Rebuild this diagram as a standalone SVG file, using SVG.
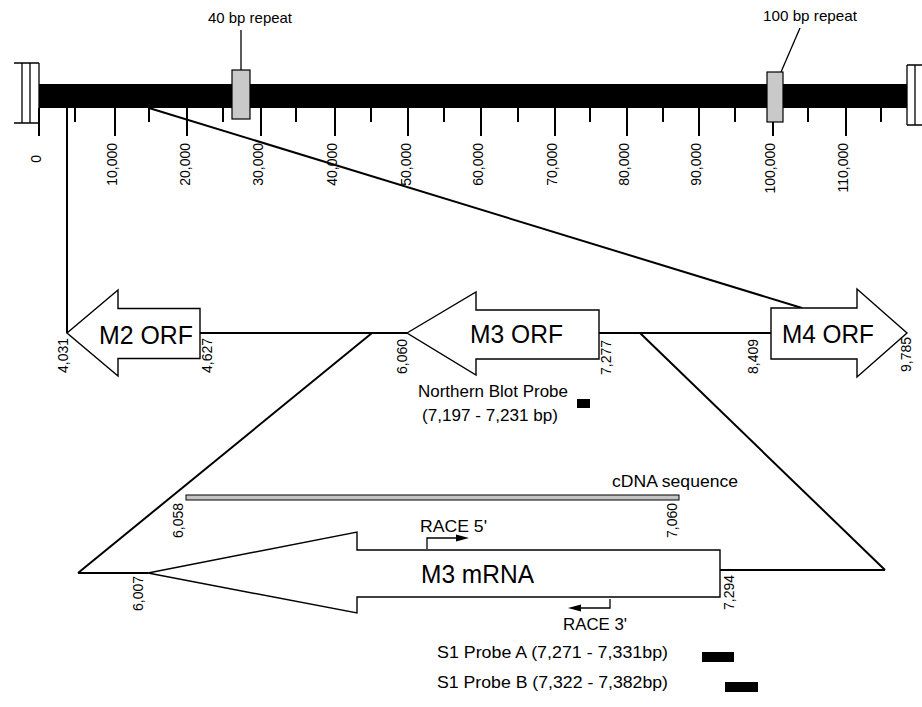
<svg xmlns="http://www.w3.org/2000/svg" width="922" height="707" viewBox="0 0 922 707">
<defs>
<style>
text{font-family:"Liberation Sans",Arial,Helvetica,sans-serif;fill:#000}
.ax{font-size:14px;text-anchor:end}
.lbl{font-size:17px}
.big{font-size:25px}
.rep{font-size:15px}
.ln{stroke:#000;stroke-width:2;fill:none}
.thin{stroke:#000;stroke-width:1.3;fill:none}
.shape{fill:#fff;stroke:#000;stroke-width:1.4}
.tick{stroke:#000;stroke-width:2}
.rpt{fill:#c9c9c9;stroke:#000;stroke-width:1.2}
</style>
</defs>
<rect width="922" height="707" fill="#fff"/>

<g id="chromosome">
  <rect x="39" y="84" width="868" height="24" fill="#000"/>
  <g id="left-end" class="thin">
    <path d="M14,63 H39 M14,123 H39 M22,63 V123 M30,63 V123 M39,63 V123"/>
  </g>
  <g id="right-end" class="thin">
    <path d="M907,65 V125 M915,65 V125 M907,65 H922 M907,125 H922"/>
  </g>
  <g id="ticks" class="tick">
    <path d="M39,108V136 M115,108V136 M187,108V136 M261,108V136 M335,108V136 M408,108V136 M481,108V136 M555,108V136 M627,108V136 M699,108V136 M773,108V136 M846,108V136"/>
    <path d="M75,108V122 M149,108V122 M223,108V122 M296,108V122 M371,108V122 M444,108V122 M518,108V122 M590,108V122 M663,108V122 M735,108V122 M808,108V122 M881,108V122"/>
  </g>
  <g id="axis-labels" class="ax">
    <text transform="translate(41,155) rotate(-90)">0</text>
    <text transform="translate(117,143) rotate(-90)">10,000</text>
    <text transform="translate(190,143) rotate(-90)">20,000</text>
    <text transform="translate(263,143) rotate(-90)">30,000</text>
    <text transform="translate(337,143) rotate(-90)">40,000</text>
    <text transform="translate(411,143) rotate(-90)">50,000</text>
    <text transform="translate(483,143) rotate(-90)">60,000</text>
    <text transform="translate(557,143) rotate(-90)">70,000</text>
    <text transform="translate(629,143) rotate(-90)">80,000</text>
    <text transform="translate(701,143) rotate(-90)">90,000</text>
    <text transform="translate(775,143) rotate(-90)">100,000</text>
    <text transform="translate(848,143) rotate(-90)">110,000</text>
  </g>
</g>

<g id="repeat-40">
  <line x1="241" y1="30" x2="241" y2="70" class="thin"/>
  <rect x="232" y="70" width="18" height="49" class="rpt"/>
  <text class="rep" x="208" y="23" textLength="84" lengthAdjust="spacingAndGlyphs">40 bp repeat</text>
</g>
<g id="repeat-100">
  <line x1="781" y1="72" x2="800" y2="28" class="thin"/>
  <rect x="767" y="72" width="16" height="50" class="rpt"/>
  <text class="rep" x="763" y="21" textLength="94" lengthAdjust="spacingAndGlyphs">100 bp repeat</text>
</g>

<g id="connectors">
  <line x1="67" y1="108" x2="67" y2="333" class="ln"/>
  <line x1="149" y1="108" x2="802" y2="308" class="ln"/>
  <line x1="200" y1="333" x2="407" y2="333" class="ln"/>
  <line x1="599" y1="333" x2="771" y2="333" class="ln"/>
  <line x1="372" y1="333" x2="78" y2="573" class="ln"/>
  <line x1="640" y1="333" x2="885" y2="570" class="ln"/>
  <line x1="78" y1="573" x2="148" y2="573" class="ln"/>
  <line x1="720" y1="570" x2="885" y2="570" class="ln"/>
</g>

<g id="M2-ORF">
  <polygon class="shape" points="67,333 118,290 118,308.5 200,308.5 200,358.5 118,358.5 118,376"/>
  <text class="big" x="99" y="344" textLength="94" lengthAdjust="spacingAndGlyphs">M2 ORF</text>
  <text class="ax" transform="translate(68,338) rotate(-90)">4,031</text>
  <text class="ax" transform="translate(212,338) rotate(-90)">4,627</text>
</g>
<g id="M3-ORF">
  <polygon class="shape" points="407,333 476,292 476,310 599,310 599,359 476,359 476,375"/>
  <text class="big" x="470" y="343" textLength="93" lengthAdjust="spacingAndGlyphs">M3 ORF</text>
  <text class="ax" transform="translate(407,339) rotate(-90)">6,060</text>
  <text class="ax" transform="translate(611,340) rotate(-90)">7,277</text>
</g>
<g id="M4-ORF">
  <polygon class="shape" points="771,308 857,308 857,289 907,333 857,377 857,359 771,359"/>
  <text class="big" x="782" y="343" textLength="92" lengthAdjust="spacingAndGlyphs">M4 ORF</text>
  <text class="ax" transform="translate(758,339) rotate(-90)">8,409</text>
  <text class="ax" transform="translate(911,337) rotate(-90)">9,785</text>
</g>

<g id="northern-probe">
  <text class="lbl" x="418" y="397" textLength="150" lengthAdjust="spacingAndGlyphs">Northern Blot Probe</text>
  <text class="lbl" x="422" y="421" textLength="136" lengthAdjust="spacingAndGlyphs">(7,197 - 7,231 bp)</text>
  <rect x="577" y="399" width="13" height="9" fill="#000"/>
</g>

<g id="cDNA">
  <rect x="186" y="495" width="493" height="5" fill="#c4c4c4" stroke="#000" stroke-width="1"/>
  <text class="lbl" x="612" y="487" textLength="126" lengthAdjust="spacingAndGlyphs">cDNA sequence</text>
  <text class="ax" transform="translate(183,503) rotate(-90)">6,058</text>
  <text class="ax" transform="translate(677,503) rotate(-90)">7,060</text>
</g>

<g id="M3-mRNA">
  <polygon class="shape" points="148,573 357,532 357,550 720,550 720,597 357,597 357,613"/>
  <text class="big" x="421" y="583" textLength="113" lengthAdjust="spacingAndGlyphs">M3 mRNA</text>
  <text class="ax" transform="translate(143,576) rotate(-90)">6,007</text>
  <text class="ax" transform="translate(734,575) rotate(-90)">7,294</text>
</g>

<g id="RACE-5">
  <polyline class="thin" points="427,549 427,538 458,538"/>
  <polygon points="469,538 456,534.5 456,541.5" fill="#000"/>
  <text class="lbl" x="420" y="532" textLength="67" lengthAdjust="spacingAndGlyphs">RACE 5'</text>
</g>
<g id="RACE-3">
  <polyline class="thin" points="610,599 610,608 580,608"/>
  <polygon points="568,608 581,604.5 581,611.5" fill="#000"/>
  <text class="lbl" x="563" y="630" textLength="64" lengthAdjust="spacingAndGlyphs">RACE 3'</text>
</g>

<g id="S1-probe-A">
  <text class="lbl" x="437" y="658" textLength="231" lengthAdjust="spacingAndGlyphs">S1 Probe A (7,271 - 7,331bp)</text>
  <rect x="702" y="652" width="32" height="10" fill="#000"/>
</g>
<g id="S1-probe-B">
  <text class="lbl" x="437" y="688" textLength="231" lengthAdjust="spacingAndGlyphs">S1 Probe B (7,322 - 7,382bp)</text>
  <rect x="725" y="682" width="33" height="10" fill="#000"/>
</g>
</svg>
